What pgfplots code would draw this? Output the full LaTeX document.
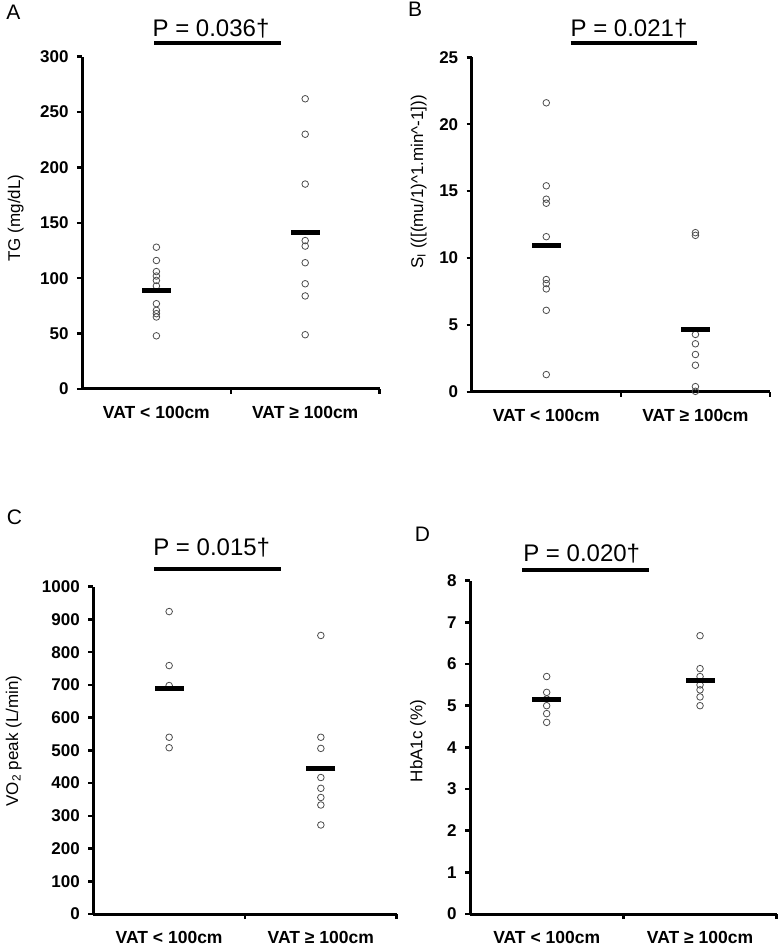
\documentclass[border=0pt]{standalone}
\usepackage{fontspec}
\setmainfont{Liberation Sans}
\usepackage{pgfplots}
\pgfplotsset{compat=1.18}
\definecolor{mk}{gray}{0.3}
\pgfplotsset{
 panel/.style={
  scale only axis,
  axis lines=left,
  axis line style={-, line width=3pt},
  xmin=0, xmax=2, ymin=0,
  xtick={1,2}, xticklabels={},
  extra x ticks={0.5,1.5},
  extra x tick labels={VAT < 100cm, VAT ≥ 100cm},
  extra x tick style={major tick length=0pt, tick label style={font=\bfseries\fontsize{17.5}{17.5}\selectfont, yshift=-14pt}},
  tick style={line width=2.5pt, black},
  major tick length=5pt,
  tick align=outside,
  /pgf/number format/assume math mode=true,
  /pgf/number format/1000 sep={},
  yticklabel style={font=\bfseries\fontsize{17}{17}\selectfont, xshift=-5pt},
  clip=false,
 },
 pts/.style={only marks, mark=o, mark size=3.3pt, mark options={line width=0.8pt, draw=mk}},
 mn/.style={only marks, mark=-, mark size=14.5pt, line width=5pt, black},
}
\begin{document}
\begin{tikzpicture}
\path[use as bounding box] (0pt,0pt) rectangle (778pt,949pt);
% Panel A
\begin{axis}[panel, at={(82pt,560pt)}, anchor=south west, width=297.6pt, height=332.3pt, ymax=300, ytick={0,50,...,300}]
\addplot[pts] coordinates {(0.5,128)(0.5,116)(0.5,106)(0.5,102)(0.5,98)(0.5,93)(0.5,77)(0.5,71)(0.5,68)(0.5,65)(0.5,48)};
\addplot[pts] coordinates {(1.5,262)(1.5,230)(1.5,185)(1.5,134)(1.5,129)(1.5,114)(1.5,95)(1.5,84)(1.5,49)};
\addplot[mn] coordinates {(0.5,88.7)(1.5,141.4)};
\end{axis}
% Panel B
\begin{axis}[panel, at={(471.7pt,557pt)}, anchor=south west, width=298.3pt, height=334.7pt, ymax=25, ytick={0,5,...,25}]
\addplot[pts] coordinates {(0.5,21.6)(0.5,15.4)(0.5,14.4)(0.5,14.1)(0.5,11.6)(0.5,8.4)(0.5,8.1)(0.5,7.7)(0.5,6.1)(0.5,1.3)};
\addplot[pts] coordinates {(1.5,11.9)(1.5,11.7)(1.5,4.3)(1.5,3.6)(1.5,2.8)(1.5,2.0)(1.5,0.4)(1.5,0.05)};
\addplot[mn] coordinates {(0.5,10.95)(1.5,4.7)};
\end{axis}
% Panel C
\begin{axis}[panel, at={(93.3pt,35pt)}, anchor=south west, width=303.4pt, height=327.3pt, ymax=1000, ytick={0,100,...,1000}]
\addplot[pts] coordinates {(0.5,924)(0.5,759)(0.5,698)(0.5,540)(0.5,508)};
\addplot[pts] coordinates {(1.5,851)(1.5,540)(1.5,506)(1.5,417)(1.5,384)(1.5,356)(1.5,333)(1.5,272)};
\addplot[mn] coordinates {(0.5,688)(1.5,445)};
\end{axis}
% Panel D
\begin{axis}[panel, at={(470pt,35pt)}, anchor=south west, width=306.7pt, height=333.3pt, ymax=8, ytick={0,1,...,8}]
\addplot[pts] coordinates {(0.5,5.70)(0.5,5.32)(0.5,5.16)(0.5,5.00)(0.5,4.81)(0.5,4.60)};
\addplot[pts] coordinates {(1.5,6.68)(1.5,5.89)(1.5,5.70)(1.5,5.50)(1.5,5.38)(1.5,5.21)(1.5,5.00)};
\addplot[mn] coordinates {(0.5,5.16)(1.5,5.60)};
\end{axis}
\begin{scope}[x=1pt,y=1pt]
% panel letters
\begin{scope}[every node/.style={font=\fontsize{21}{21}\selectfont, anchor=base, inner sep=0pt}]
\node at (13.5,929) {A};
\node at (415,932.3) {B};
\node at (14.5,424) {C};
\node at (422.5,407.3) {D};
\end{scope}
% P values
\begin{scope}[every node/.style={font=\fontsize{24}{24}\selectfont, anchor=base, inner sep=0pt}]
\node at (211,912.3) {P = 0.036†};
\node at (629,912.3) {P = 0.021†};
\node at (211.7,393) {P = 0.015†};
\node at (581.7,387.3) {P = 0.020†};
\end{scope}
\draw[line width=4pt] (154,905.7) -- (281,905.7);
\draw[line width=4pt] (570.7,906.3) -- (696.7,906.3);
\draw[line width=4pt] (154,380) -- (280.7,380);
\draw[line width=4pt] (522,379) -- (648.7,379);
% y labels
\begin{scope}[every node/.style={font=\fontsize{17}{17}\selectfont, anchor=base, rotate=90, inner sep=0pt}]
\node at (20,731) {TG (mg/dL)};
\node at (423,767) {S\textsubscript{I} (([(mu/1)\textasciicircum 1.min\textasciicircum -1]))};
\node at (18,208) {VO\textsubscript{2} peak (L/min)};
\node at (422.3,208) {HbA1c (\%)};
\end{scope}
\end{scope}
\end{tikzpicture}
\end{document}
